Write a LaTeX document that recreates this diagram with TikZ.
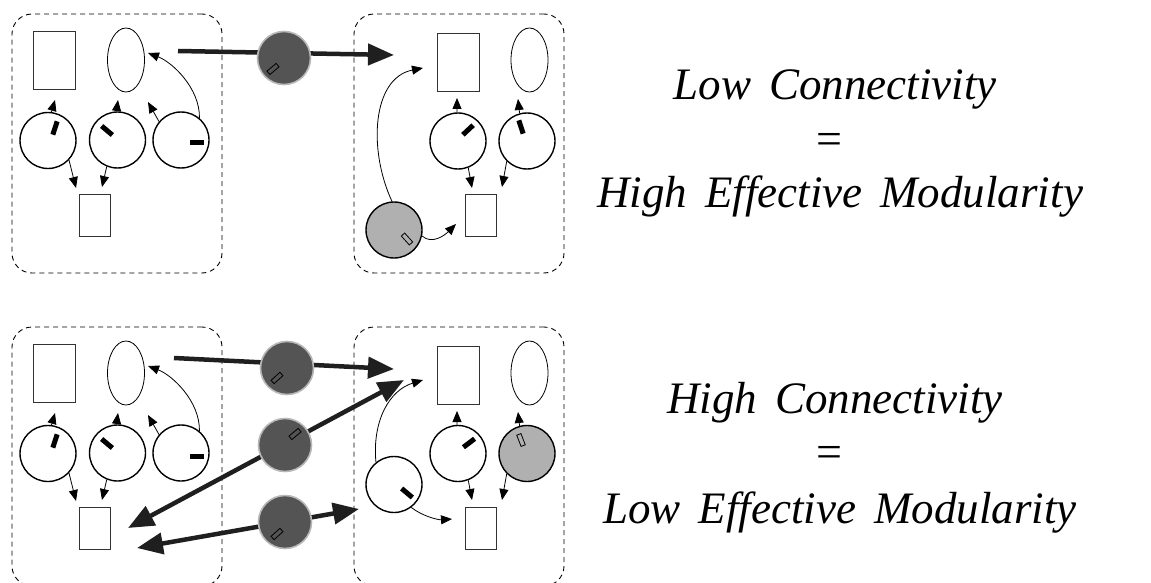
\documentclass[tikz,border=0pt]{standalone}
\usepackage{fontspec}
\setmainfont{Liberation Serif}[ItalicFont={Liberation Serif Italic}]
\usetikzlibrary{arrows.meta,shapes.geometric}
\newcommand\wordgap{\hspace{0.4em}}
\tikzset{
  frame/.style={draw, line width=0.9pt, dash pattern=on 5pt off 4pt, rounded corners=20pt,
                minimum width=210pt, minimum height=259pt, inner sep=0pt},
  part/.style={draw=black!80, line width=0.9pt, minimum width=42pt, minimum height=58pt, inner sep=0pt},
  smallpart/.style={draw=black!80, line width=0.9pt, minimum width=31pt, minimum height=42pt, inner sep=0pt},
  oval/.style={ellipse, draw, line width=0.8pt, minimum width=37pt, minimum height=64pt, inner sep=0pt},
  unit/.style={circle, draw, line width=1.4pt, minimum size=56pt, inner sep=0pt, fill=white},
  shared/.style={unit, fill=black!31},
  link/.style={circle, fill=black!67, draw=black!28, line width=1.6pt, minimum size=53pt, inner sep=0pt},
  dial/.style={rectangle, fill=black, minimum width=14pt, minimum height=5pt, inner sep=0pt},
  hdial/.style={rectangle, draw=black, line width=0.8pt, minimum width=12pt, minimum height=4.5pt, inner sep=0pt},
  dep/.style={-{Triangle[length=11pt,width=9pt]}, line width=0.8pt},
  bond/.style={-{Triangle[length=26pt,width=21pt]}, line width=4.5pt, draw=black!88},
  bondboth/.style={{Triangle[length=26pt,width=21pt]}-{Triangle[length=26pt,width=21pt]}, line width=4.5pt, draw=black!88},
  claim/.style={font=\fontsize{45}{45}\selectfont\itshape, inner sep=0pt, anchor=base},
  equal/.style={font=\fontsize{46}{46}\selectfont, inner sep=0pt},
}
% one module with three units, two parts below a shared part
\newcommand\leftmodule{%
  \node[frame] (box) at (117,143.5) {};
  \node[part] (r1) at (54,60) {};
  \node[oval] (e1) at (126,60) {};
  \node[smallpart] (r2) at (94.5,215) {};
  \node[unit] (c1) at (48,140.5) {};
  \node[unit] (c2) at (117.5,140) {};
  \node[unit] (c3) at (181,140) {};
  \node[dial, rotate=72] (k1) at (55,128) {};
  \node[dial, rotate=-40] (k2) at (107,130.5) {};
  \node[dial] (k3) at (196.5,143) {};
  \coordinate (t1) at (55,100);
  \coordinate (t2) at (118,100);
  \coordinate (t3) at (148,102);
  \coordinate (t4) at (148,53);
  \coordinate (t5) at (76,188);
  \coordinate (t6) at (102,187);
  \draw[dep] (c1.83) -- (t1);
  \draw[dep] (c2.92) -- (t2);
  \draw[dep] (c3.140) -- (t3);
  \draw[dep] (c3.50) .. controls (200,88) and (172,62) .. (t4);
  \draw[dep] (c1.-43) -- (t5);
  \draw[dep] (c2.-112) -- (t6);
}
\begin{document}
\begin{tikzpicture}[x=1pt,y=-1pt]
\useasboundingbox (0,0) rectangle (1151,583);

% ---------- upper row: low connectivity ----------
\begin{scope}[name prefix=ul-]
  \leftmodule
\end{scope}

\begin{scope}[name prefix=ur-]
  \node[frame] (box) at (459,143.5) {};
  \node[part] (r1) at (458,62) {};
  \node[oval] (e1) at (529.5,60) {};
  \node[smallpart] (r2) at (480.5,215) {};
  \node[unit] (a) at (458,141) {};
  \node[unit] (b) at (527,141) {};
  \node[shared] (g) at (394,230) {};
  \node[dial, rotate=43] (ka) at (468,130) {};
  \node[dial, rotate=108] (kb) at (521,127) {};
  \node[hdial, rotate=-48] (kg) at (407,239) {};
  \coordinate (t1) at (457,98);
  \coordinate (t2) at (518,99);
  \coordinate (t3) at (472,188);
  \coordinate (t4) at (502,187);
  \coordinate (t5) at (423,68);
  \coordinate (t6) at (456,224);
  \draw[dep] (a.92) -- (t1);
  \draw[dep] (b.105) -- (t2);
  \draw[dep] (a.-69) -- (t3);
  \draw[dep] (b.-135) -- (t4);
  \draw[dep] (g.94) .. controls (368,150) and (372,78) .. (t5);
  \draw[dep] (g.-12) .. controls (432,245) and (445,235) .. (t6);
\end{scope}

\coordinate (s1) at (178,51);
\coordinate (e1) at (394,55);
\draw[bond] (s1) -- (e1);
\node[link] (d1) at (284,58) {};
\node[hdial, rotate=40] (kd1) at (273,69) {};

% ---------- lower row: high connectivity ----------
\begin{scope}[name prefix=ll-, yshift=-313pt]
  \leftmodule
\end{scope}

\begin{scope}[name prefix=lr-]
  \node[frame] (box) at (459,456.5) {};
  \node[part] (r1) at (458,375) {};
  \node[oval] (e1) at (529.5,373) {};
  \node[smallpart] (r2) at (480.5,528) {};
  \node[unit] (a) at (458,453.5) {};
  \node[shared] (b) at (527,453.5) {};
  \node[unit] (c) at (394,484.5) {};
  \node[dial, rotate=37] (ka) at (469,443) {};
  \node[hdial, rotate=111] (kb) at (521,440) {};
  \node[dial, rotate=-40] (kc) at (407,493) {};
  \coordinate (t1) at (457,411);
  \coordinate (t2) at (518,412);
  \coordinate (t3) at (472,500);
  \coordinate (t4) at (502,500);
  \coordinate (t5) at (423,380);
  \coordinate (t6) at (452,519);
  \draw[dep] (a.92) -- (t1);
  \draw[dep] (b.105) -- (t2);
  \draw[dep] (a.-69) -- (t3);
  \draw[dep] (b.-135) -- (t4);
  \draw[dep] (c.129) .. controls (372,420) and (390,390) .. (t5);
  \draw[dep] (c.-53) .. controls (422,516) and (438,520) .. (t6);
\end{scope}

\coordinate (s2) at (174,358);
\coordinate (e2) at (394,369);
\coordinate (s3) at (128,528);
\coordinate (e3) at (404,380);
\coordinate (s4) at (137,548);
\coordinate (e4) at (359,509);
\draw[bond] (s2) -- (e2);
\draw[bondboth] (s3) -- (e3);
\draw[bondboth] (s4) -- (e4);
\node[link] (d2) at (287,368) {};
\node[link] (d3) at (285,445) {};
\node[link] (d4) at (285,522) {};
\node[hdial, rotate=42] (kd2) at (277,378) {};
\node[hdial, rotate=40] (kd3) at (295,434) {};
\node[hdial, rotate=42] (kd4) at (277,534) {};

% ---------- statements ----------
\node[claim] (top1) at (835,100) {Low\wordgap Connectivity};
\node[equal] (top2) at (829,144) {=};
\node[claim] (top3) at (840,207) {High\wordgap Effective\wordgap Modularity};
\node[claim] (bot1) at (835,413) {High\wordgap Connectivity};
\node[equal] (bot2) at (829,457) {=};
\node[claim] (bot3) at (840,523) {Low\wordgap Effective\wordgap Modularity};
\end{tikzpicture}
\end{document}
